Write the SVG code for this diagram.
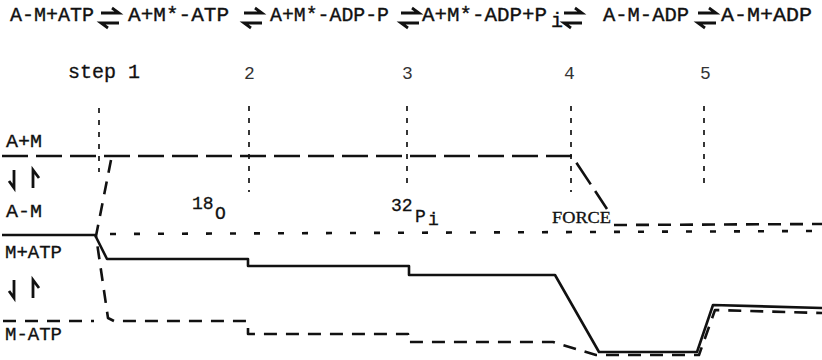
<svg xmlns="http://www.w3.org/2000/svg" xmlns:xlink="http://www.w3.org/1999/xlink" width="822" height="360" viewBox="0 0 822 360">
  <style>
    .eq { font-family: "Liberation Mono", "Courier New", monospace; font-size: 20px; fill: #111; stroke: #111; stroke-width: 0.35; }
    .step { font-family: "Liberation Mono", "Courier New", monospace; font-size: 20px; fill: #111; stroke: #111; stroke-width: 0.3; }
    .num { font-family: "Liberation Mono", "Courier New", monospace; font-size: 18px; fill: #333; }
    .lab { font-family: "Liberation Mono", "Courier New", monospace; font-size: 18px; fill: #111; stroke: #111; stroke-width: 0.3; }
    .iso { font-family: "Liberation Mono", "Courier New", monospace; font-size: 18px; fill: #111; stroke: #111; stroke-width: 0.3; }
    .force { font-family: "Liberation Serif", "Times New Roman", serif; font-size: 16px; fill: #111; stroke: #111; stroke-width: 0.3; }
    .harp { fill: none; stroke: #111; stroke-width: 2.8; stroke-linecap: butt; }
    .tick { fill: none; stroke: #222; stroke-width: 1.8; stroke-dasharray: 5 7; }
    .am { fill: none; stroke: #111; stroke-width: 2.6; stroke-dasharray: 26 8; }
    .dot { fill: none; stroke: #111; stroke-width: 2.6; stroke-dasharray: 6 18; }
    .solid { fill: none; stroke: #111; stroke-width: 2.6; stroke-linejoin: round; }
    .matp { fill: none; stroke: #111; stroke-width: 2.6; stroke-dasharray: 13 9; stroke-linejoin: round; }
  </style>
  <defs>
    <!-- equilibrium harpoons: forward on top, reverse below -->
    <g id="equil">
      <path class="harp" d="M0,0 H18 L11,-5"/>
      <path class="harp" d="M18,10 H0 L7,15"/>
    </g>
    <!-- vertical harpoon pair between bound and free states -->
    <g id="updown">
      <path class="harp" d="M14,0 V18 L9,11"/>
      <path class="harp" d="M33,18 V0 L39,8"/>
    </g>
  </defs>

  <!-- reaction scheme -->
  <g id="scheme">
    <text class="eq" x="10" y="21" textLength="84" lengthAdjust="spacingAndGlyphs">A-M+ATP</text>
    <use xlink:href="#equil" x="101" y="13"/>
    <text class="eq" x="128" y="21" textLength="101" lengthAdjust="spacingAndGlyphs">A+M*-ATP</text>
    <use xlink:href="#equil" x="244" y="13"/>
    <text class="eq" x="270" y="21" textLength="119" lengthAdjust="spacingAndGlyphs">A+M*-ADP-P</text>
    <use xlink:href="#equil" x="401" y="13"/>
    <text class="eq" x="422" y="21" textLength="125" lengthAdjust="spacingAndGlyphs">A+M*-ADP+P</text>
    <text class="eq" x="551" y="27" font-size="16">i</text>
    <use xlink:href="#equil" x="564" y="13"/>
    <text class="eq" x="603" y="21" textLength="86" lengthAdjust="spacingAndGlyphs">A-M-ADP</text>
    <use xlink:href="#equil" x="698" y="13"/>
    <text class="eq" x="721" y="21" textLength="91" lengthAdjust="spacingAndGlyphs">A-M+ADP</text>
  </g>

  <!-- step markers -->
  <g id="step1">
    <text class="step" x="68" y="78" textLength="72" lengthAdjust="spacingAndGlyphs">step 1</text>
    <path class="tick" d="M99,108 V172"/>
  </g>
  <g id="step2">
    <text class="num" x="244" y="79">2</text>
    <path class="tick" d="M249,106 V192"/>
  </g>
  <g id="step3">
    <text class="num" x="402" y="79">3</text>
    <path class="tick" d="M407,106 V190"/>
  </g>
  <g id="step4">
    <text class="num" x="564" y="79">4</text>
    <path class="tick" d="M571,106 V192"/>
  </g>
  <g id="step5">
    <text class="num" x="700" y="79">5</text>
    <path class="tick" d="M704,106 V190"/>
  </g>

  <!-- state labels -->
  <g id="states">
    <text class="lab" x="6" y="147" textLength="36" lengthAdjust="spacingAndGlyphs">A+M</text>
    <use xlink:href="#updown" x="0" y="170"/>
    <text class="lab" x="6" y="217" textLength="36" lengthAdjust="spacingAndGlyphs">A-M</text>
    <text class="lab" x="5" y="258" textLength="57" lengthAdjust="spacingAndGlyphs">M+ATP</text>
    <use xlink:href="#updown" x="0" y="280"/>
    <text class="lab" x="5" y="340" textLength="57" lengthAdjust="spacingAndGlyphs">M-ATP</text>
  </g>

  <!-- isotope exchange and force annotations -->
  <g id="annotations">
    <text class="iso" x="192" y="209">18</text>
    <text class="iso" x="215" y="219">O</text>
    <text class="iso" x="391" y="211">32</text>
    <text class="iso" x="415" y="222">P</text>
    <text class="iso" x="428" y="225" font-size="15">i</text>
    <text class="force" x="552" y="223" textLength="59" lengthAdjust="spacingAndGlyphs">FORCE</text>
  </g>

  <!-- population traces -->
  <g id="traces">
    <!-- A+M (long dash) -->
    <path class="am" d="M2,156 H572 L607,209"/>
    <path class="matp" d="M614,225 L822,224"/>
    <!-- A-M (dotted) -->
    <path class="dot" d="M110,234 L822,231"/>
    <!-- M+ATP (solid) -->
    <path class="solid" d="M2,235 H95 L107,259 H248 V266 H409 V275 H555 L599,352 H697 L713,305 L822,308"/>
    <!-- M-ATP (short dash) -->
    <path class="matp" d="M3,321 H94"/>
    <path class="matp" d="M111,160 L96,236 L108,318 L114,321 H248 V334 H408 V342 H553 L596,355 H699 L715,310 L822,313"/>
  </g>
</svg>
